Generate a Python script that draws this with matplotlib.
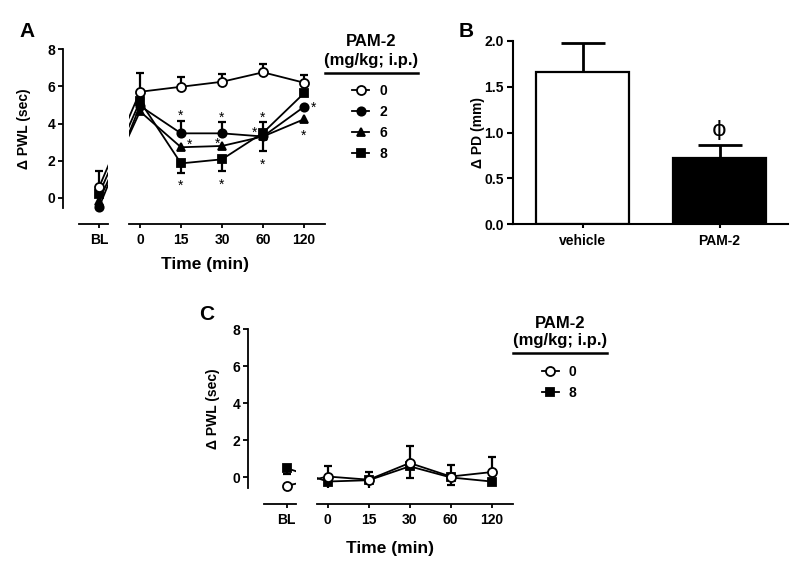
import matplotlib
matplotlib.use("Agg")
import matplotlib.pyplot as plt
from matplotlib.lines import Line2D

plt.rcParams['font.family'] = ['Liberation Sans', 'DejaVu Sans']
plt.rcParams['font.weight'] = 'bold'
plt.rcParams['axes.linewidth'] = 1.3

W, H = 800, 571


def fx(px):
    return px / W


def fy(py):
    return 1 - py / H


# ---------------- data ----------------
time_labels = ["BL", "0", "15", "30", "60", "120"]

# panel A: PAM-2 doses (mg/kg; i.p.)
a_labels = ["0", "2", "6", "8"]
a_mean_0 = [0.56, 5.71, 5.98, 6.25, 6.76, 6.20]
a_lo_0 = [0, 0, 0, 0, 0, 0]
a_hi_0 = [0.90, 1.03, 0.54, 0.42, 0.44, 0.41]
a_mean_2 = [-0.52, 4.95, 3.47, 3.47, 3.30, 4.90]
a_lo_2 = [0, 0, 0, 0, 0, 0]
a_hi_2 = [0, 0, 0.68, 0.63, 0.76, 0]
a_mean_6 = [-0.15, 4.65, 2.72, 2.79, 3.30, 4.23]
a_lo_6 = [0, 0, 0, 0, 0, 0]
a_hi_6 = [0, 0, 0, 0, 0, 0]
a_mean_8 = [0.20, 5.20, 1.85, 2.07, 3.50, 5.63]
a_lo_8 = [0, 0, 0.50, 0.63, 0.97, 0]
a_hi_8 = [0, 0, 0, 0, 0, 0]

# significance stars (x index, y value)
a_star_x = [2, 2, 2.2, 3, 2.885, 3, 4, 3.79, 4, 5.24, 5]
a_star_y = [4.64, 0.86, 3.07, 4.55, 3.15, 0.92, 4.55, 3.74, 2.0, 5.09, 3.56]

# panel B
b_groups = ["vehicle", "PAM-2"]
b_mean = [1.66, 0.72]
b_err = [0.32, 0.14]

# panel C
c_labels = ["0", "8"]
c_mean_0 = [-0.45, 0.05, -0.12, 0.78, 0.05, 0.29]
c_lo_0 = [0, 0, 0, 0, 0, 0]
c_hi_0 = [0, 0.55, 0.44, 0.93, 0.63, 0.79]
c_mean_8 = [0.50, -0.22, -0.15, 0.60, 0.00, -0.22]
c_lo_8 = [0.30, 0.53, 0.78, 0.65, 0.39, 0]
c_hi_8 = [0, 0, 0, 0, 0, 0]

# marker styles for each dose
styles = {
    "0": dict(marker="o", mfc="white", ms=6.5),
    "2": dict(marker="o", mfc="black", ms=6.0),
    "6": dict(marker="^", mfc="black", ms=6.0),
    "8": dict(marker="s", mfc="black", ms=5.8),
}

fig = plt.figure(figsize=(8, 5.71), dpi=100)
fig.patch.set_facecolor("white")


def time_axes(bl_px, top_px, bot_px, xaxis_px, yaxis_px, r_start, r_end):
    # broken x axis: BL on its own short axes, time points on a second one
    step = 41.0
    l_start = yaxis_px + 16
    l_end = bl_px + 9
    hgt = (bot_px - top_px) / H
    ax_l = fig.add_axes([fx(l_start), fy(bot_px), (l_end - l_start) / W, hgt])
    ax_r = fig.add_axes([fx(r_start), fy(bot_px), (r_end - r_start) / W, hgt])
    ax_l.set_xlim((l_start - bl_px) / step, (l_end - bl_px) / step)
    ax_r.set_xlim((r_start - bl_px) / step, (r_end - bl_px) / step)
    for ax in (ax_l, ax_r):
        ax.set_ylim(-0.57, 8)
        ax.patch.set_alpha(0)
        for s in ("top", "right"):
            ax.spines[s].set_visible(False)
        ax.spines["bottom"].set_position(("outward", (xaxis_px - bot_px) * 0.72))
        ax.tick_params(axis="x", direction="out", length=3, width=1.3,
                       labelsize=10, pad=3.5)
    ax_l.spines["left"].set_position(("outward", (l_start - yaxis_px) * 0.72))
    ax_l.tick_params(axis="y", direction="out", length=3.6, width=1.3,
                     labelsize=10, pad=2)
    ax_l.set_yticks([0, 2, 4, 6, 8])
    ax_r.spines["left"].set_visible(False)
    ax_r.set_yticks([])
    ax_l.set_xticks([0])
    ax_l.set_xticklabels(time_labels[:1])
    ax_r.set_xticks(range(1, len(time_labels)))
    ax_r.set_xticklabels(time_labels[1:])
    return ax_l, ax_r


def draw_series(ax_l, ax_r, mean, lo, hi, st, z):
    xs = list(range(len(mean)))
    for ax, idx in ((ax_l, [0]), (ax_r, xs[1:])):
        ax.plot(xs, mean, color="k", lw=1.3, zorder=2)
        ex = [i for i in idx if lo[i] > 0 or hi[i] > 0]
        if ex:
            ax.errorbar([xs[i] for i in ex], [mean[i] for i in ex],
                        yerr=[[lo[i] for i in ex], [hi[i] for i in ex]],
                        fmt="none", ecolor="k", elinewidth=1.6,
                        capsize=3, capthick=1.6, zorder=2)
        ax.plot([xs[i] for i in idx], [mean[i] for i in idx], ls="none",
                marker=st["marker"], mfc=st["mfc"], mec="k", mew=1.3,
                ms=st["ms"], zorder=z, clip_on=False)


def legend_block(cx, title_y, line_x0, line_x1, line_y, hx, top_y, labels):
    fig.text(fx(cx), fy(title_y), "PAM-2\n(mg/kg; i.p.)", ha="center",
             va="center", fontsize=12, fontweight="bold", linespacing=1.25)
    fig.add_artist(Line2D([fx(line_x0), fx(line_x1)], [fy(line_y)] * 2,
                          color="k", lw=1.8))
    handles = [Line2D([], [], color="k", lw=1.3, marker=styles[l]["marker"],
                      mfc=styles[l]["mfc"], mec="k", mew=1.3,
                      ms=styles[l]["ms"]) for l in labels]
    fig.legend(handles, labels, loc="upper left",
               bbox_to_anchor=(fx(hx), fy(top_y)), frameon=False,
               handlelength=1.25, handletextpad=0.7, labelspacing=0.5,
               borderpad=0, borderaxespad=0,
               prop={"weight": "bold", "size": 10})


# ---------------- panel A ----------------
axA_l, axA_r = time_axes(99, 49.3, 208.3, 224, 63, 129, 325)
a_means = [a_mean_6, a_mean_8, a_mean_2, a_mean_0]
a_los = [a_lo_6, a_lo_8, a_lo_2, a_lo_0]
a_his = [a_hi_6, a_hi_8, a_hi_2, a_hi_0]
for n, lab in enumerate(["6", "8", "2", "0"]):
    draw_series(axA_l, axA_r, a_means[n], a_los[n], a_his[n], styles[lab], 3 + n)
for sx, sy in zip(a_star_x, a_star_y):
    axA_r.annotate("*", xy=(sx, sy), xytext=(0, -3), textcoords="offset points",
                   ha="center", va="center", fontsize=10, fontweight="normal")

fig.text(fx(24), fy(128.8), "\u0394 PWL (sec)", rotation=90, ha="center",
         va="center", fontsize=10, fontweight="bold")
fig.text(fx(205), fy(264), "Time (min)", ha="center", va="center",
         fontsize=12.5, fontweight="bold")
fig.text(fx(27), fy(31.7), "A", ha="center", va="center", fontsize=15,
         fontweight="bold")
legend_block(371, 51, 325, 418, 73.3, 352, 84, a_labels)

# ---------------- panel B ----------------
axB = fig.add_axes([fx(512.7), fy(224.3), (788 - 512.7) / W, (224.3 - 41) / H])
axB.bar(range(len(b_groups)), b_mean, width=0.68, color=["white", "black"],
        edgecolor="k", linewidth=1.6, zorder=2)
axB.errorbar(range(len(b_groups)), b_mean, yerr=[[0, 0], b_err], fmt="none",
             ecolor="k", elinewidth=2.0, capsize=16, capthick=2.0, zorder=1)
axB.text(1, b_mean[1] + b_err[1] + 0.17, "\u03d5", ha="center", va="center",
         fontsize=16, fontweight="normal", family=["DejaVu Sans"])
axB.set_xlim(-0.51, 1.5)
axB.set_ylim(0, 2.0)
axB.set_yticks([0, 0.5, 1.0, 1.5, 2.0])
axB.set_yticklabels(["0.0", "0.5", "1.0", "1.5", "2.0"])
axB.set_xticks(range(len(b_groups)))
axB.set_xticklabels(b_groups)
for s in ("top", "right"):
    axB.spines[s].set_visible(False)
axB.spines["left"].set_linewidth(1.5)
axB.spines["bottom"].set_linewidth(1.5)
axB.tick_params(axis="y", direction="out", length=4.3, width=1.5,
                labelsize=10, pad=2)
axB.tick_params(axis="x", direction="out", length=3, width=1.5,
                labelsize=10, pad=4)
fig.text(fx(478), fy(132.6), "\u0394 PD (mm)", rotation=90, ha="center",
         va="center", fontsize=10, fontweight="bold")
fig.text(fx(466), fy(31.7), "B", ha="center", va="center", fontsize=15,
         fontweight="bold")

# ---------------- panel C ----------------
axC_l, axC_r = time_axes(286.7, 329.3, 488, 504, 248.3, 317, 513)
c_means = [c_mean_8, c_mean_0]
c_los = [c_lo_8, c_lo_0]
c_his = [c_hi_8, c_hi_0]
for n, lab in enumerate(["8", "0"]):
    draw_series(axC_l, axC_r, c_means[n], c_los[n], c_his[n], styles[lab], 3 + n)

fig.text(fx(213), fy(408.6), "\u0394 PWL (sec)", rotation=90, ha="center",
         va="center", fontsize=10, fontweight="bold")
fig.text(fx(390), fy(548), "Time (min)", ha="center", va="center",
         fontsize=12.5, fontweight="bold")
fig.text(fx(206.7), fy(315), "C", ha="center", va="center", fontsize=15,
         fontweight="bold")
legend_block(560, 332, 513, 607, 353, 541.5, 365, c_labels)

fig.savefig("out.png", dpi=100)
